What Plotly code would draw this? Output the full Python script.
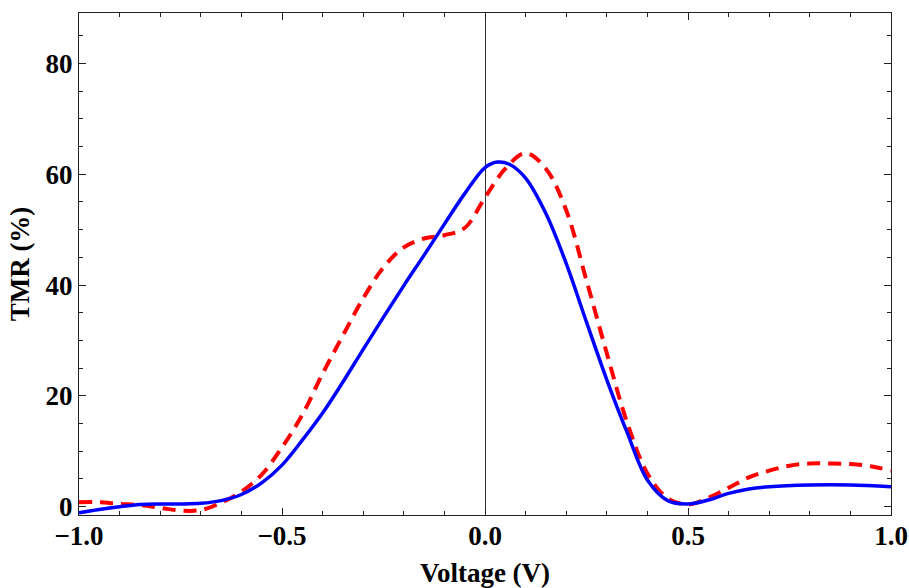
import plotly.graph_objects as go

# Blue solid curve
v_blue = [-1.0, -0.95, -0.9, -0.85, -0.8, -0.75, -0.7, -0.65, -0.6, -0.55, -0.5,
          -0.45, -0.4, -0.35, -0.3, -0.25, -0.2, -0.15, -0.1, -0.05, 0.0, 0.03,
          0.06, 0.1, 0.15, 0.2, 0.25, 0.3, 0.35, 0.4, 0.45, 0.5, 0.55, 0.6,
          0.65, 0.7, 0.8, 0.9, 1.0]
tmr_blue = [-1.1, -0.5, 0.0, 0.4, 0.5, 0.5, 0.6, 1.1, 2.2, 4.3, 7.5,
            12.0, 16.9, 22.5, 28.4, 34.2, 39.9, 45.4, 51.0, 56.5, 61.2, 62.2,
            61.8, 59.3, 52.9, 43.9, 33.3, 22.9, 13.4, 4.8, 1.1, 0.5, 1.2, 2.4,
            3.2, 3.6, 3.9, 3.9, 3.6]

# Red dashed curve
v_red = [-1.0, -0.95, -0.9, -0.85, -0.8, -0.75, -0.7, -0.65, -0.6, -0.55, -0.5,
         -0.45, -0.4, -0.35, -0.3, -0.25, -0.2, -0.15, -0.1, -0.05, 0.0, 0.05,
         0.1, 0.15, 0.2, 0.25, 0.3, 0.35, 0.4, 0.45, 0.5, 0.55, 0.6, 0.65,
         0.7, 0.75, 0.8, 0.85, 0.9, 0.95, 1.0]
tmr_red = [0.8, 0.8, 0.5, 0.3, -0.2, -0.7, -0.6, 0.7, 2.7, 5.8, 10.7,
           16.6, 24.0, 30.9, 37.6, 43.2, 46.8, 48.4, 49.0, 50.3, 55.8, 61.0,
           63.8, 61.0, 53.5, 40.8, 27.7, 15.2, 6.0, 1.5, 0.4, 1.6, 3.4, 5.3,
           6.5, 7.4, 7.8, 7.8, 7.7, 7.3, 6.5]

x_ticks = [-1.0, -0.5, 0.0, 0.5, 1.0]
x_tick_labels = ["\u22121.0", "\u22120.5", "0.0", "0.5", "1.0"]
y_ticks = [0, 20, 40, 60, 80]
y_tick_labels = ["0", "20", "40", "60", "80"]

font_family = "Liberation Serif"

fig = go.Figure()
fig.add_trace(go.Scatter(x=v_red, y=tmr_red, mode="lines",
                         line=dict(color="#FF0000", width=4, dash="13px,8px",
                                   shape="spline", smoothing=1.0),
                         showlegend=False))
fig.add_trace(go.Scatter(x=v_blue, y=tmr_blue, mode="lines",
                         line=dict(color="#0000FF", width=3.5,
                                   shape="spline", smoothing=1.0),
                         showlegend=False))

axis_common = dict(
    showgrid=False,
    automargin=False,
    showline=True, linecolor="#222222", linewidth=1.3,
    mirror="ticks",
    ticks="inside", ticklen=7, tickwidth=1, tickcolor="#222222",
    tickfont=dict(family=font_family, size=27, color="black", weight="bold"),
)

fig.update_xaxes(
    range=[-1.0, 1.0], tickvals=x_ticks, ticktext=x_tick_labels,
    zeroline=True, zerolinecolor="#333333", zerolinewidth=1,
    ticklabelstandoff=-4,
    minor=dict(dtick=0.1, ticks="inside", ticklen=4, tickcolor="#222222"),
    title=dict(text="Voltage (V)", standoff=14,
               font=dict(family=font_family, size=27, color="black", weight="bold")),
    **axis_common,
)
fig.update_yaxes(
    range=[-1.5, 89.1], tickvals=y_ticks, ticktext=y_tick_labels,
    zeroline=False,
    minor=dict(dtick=5, ticks="inside", ticklen=4, tickcolor="#222222"),
    title=dict(text="TMR (%)", standoff=8,
               font=dict(family=font_family, size=27, color="black", weight="bold")),
    **axis_common,
)

fig.update_layout(
    width=909, height=588,
    margin=dict(l=79, r=18, t=13, b=73),
    plot_bgcolor="white", paper_bgcolor="white",
)

# remove the default 8px page margin so the figure fills the window exactly
fig.write_html("out.html",
               config={"displayModeBar": False},
               post_script="document.body.style.margin='0';"
                           "document.body.style.overflow='hidden';")
